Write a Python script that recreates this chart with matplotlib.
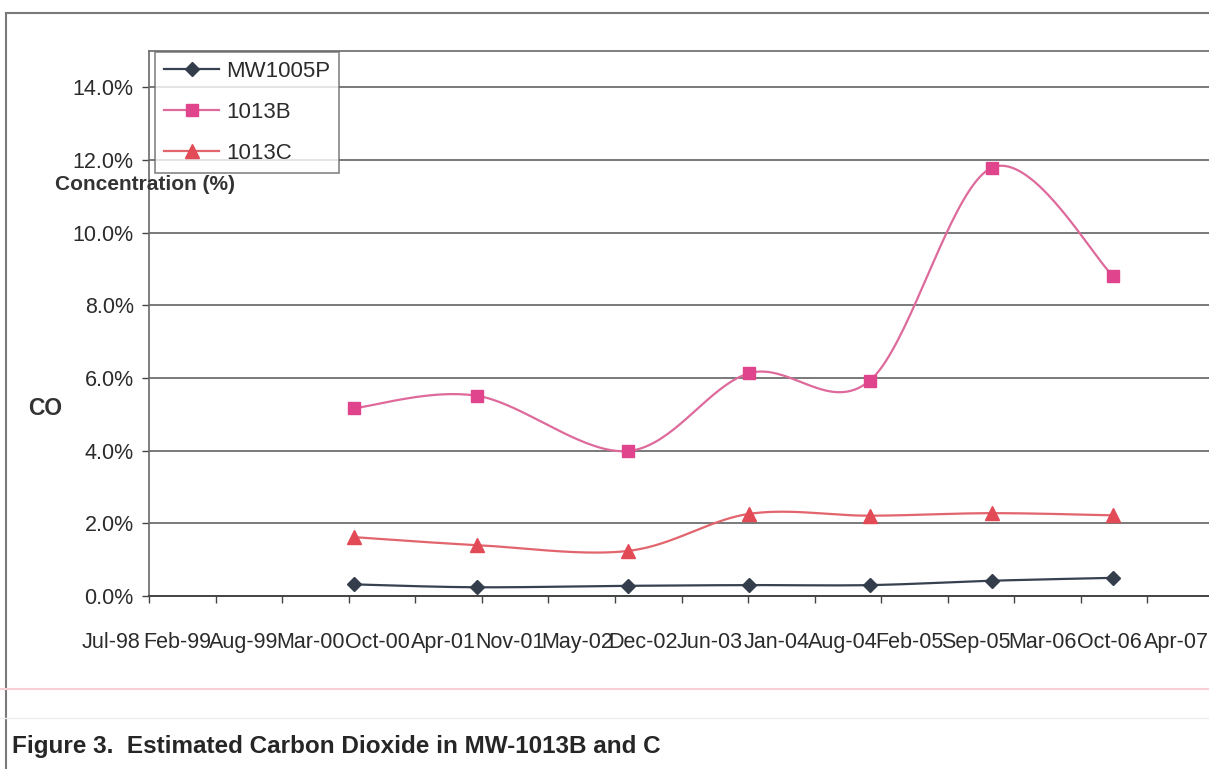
import numpy as np
import matplotlib
matplotlib.use("Agg")
import matplotlib.pyplot as plt
import matplotlib.dates as mdates
from matplotlib.lines import Line2D
from matplotlib.transforms import ScaledTranslation
import datetime as dt

plt.rcParams["font.family"] = ["Liberation Sans", "DejaVu Sans"]

# ---- data -------------------------------------------------------------
sample_dates = ["2000-04-01", "2001-04-05", "2002-07-02", "2003-07-01",
                "2004-06-28", "2005-06-30", "2006-06-29"]
mw1005p = [0.32, 0.24, 0.28, 0.30, 0.30, 0.42, 0.50]
mw1013b = [5.17, 5.51, 3.99, 6.13, 5.93, 11.79, 8.81]
mw1013c = [1.62, 1.40, 1.24, 2.26, 2.21, 2.28, 2.22]
series_names = ["MW1005P", "1013B", "1013C"]

axis_start = "1998-07-24"      # date axis minimum
axis_step_days = 200           # major unit
axis_n_steps = 16
y_max = 15.0
y_ticks = [0, 2, 4, 6, 8, 10, 12, 14]

title_text = "Figure 3.  Estimated Carbon Dioxide in MW-1013B and C"
ylabel_text = "Concentration (%)"
side_text = "CO"


def smooth_curve(x, y, n=40):
    """Piecewise cubic Bezier through the points (spreadsheet-style smoothing)."""
    x = np.asarray(x, float)
    y = np.asarray(y, float)
    px = np.concatenate([[x[0]], x, [x[-1]]])
    py = np.concatenate([[y[0]], y, [y[-1]]])
    t = np.linspace(0, 1, n)[:, None]
    xs, ys = [], []
    for i in range(1, len(px) - 2):
        p0 = np.array([px[i], py[i]])
        p3 = np.array([px[i + 1], py[i + 1]])
        c1 = p0 + (np.array([px[i + 1], py[i + 1]]) - np.array([px[i - 1], py[i - 1]])) / 6
        c2 = p3 - (np.array([px[i + 2], py[i + 2]]) - np.array([px[i], py[i]])) / 6
        b = ((1 - t) ** 3) * p0 + 3 * ((1 - t) ** 2) * t * c1 + 3 * (1 - t) * t ** 2 * c2 + t ** 3 * p3
        xs.append(b[:, 0])
        ys.append(b[:, 1])
    return np.concatenate(xs), np.concatenate(ys)


W, H = 1209, 769
fig = plt.figure(figsize=(W / 100, H / 100), dpi=100)
fig.patch.set_facecolor("white")

# plot area in pixel terms -> figure fraction
left_px, right_px, top_px, bottom_px = 149, 1214, 51, 596
ax = fig.add_axes([left_px / W, 1 - bottom_px / H,
                   (right_px - left_px) / W, (bottom_px - top_px) / H])

xd = mdates.date2num([dt.datetime.fromisoformat(d) for d in sample_dates])
start = dt.datetime.fromisoformat(axis_start)
tick_dates = [start + dt.timedelta(days=axis_step_days * k) for k in range(axis_n_steps + 1)]
tick_nums = mdates.date2num(tick_dates)

styles = [
    dict(line="#37414F", face="#333D4B", marker="D", ms=7.0),
    dict(line="#DE6A9C", face="#E0448C", marker="s", ms=8.0),
    dict(line="#E2646D", face="#E24A56", marker="^", ms=9.5),
]
values = [mw1005p, mw1013b, mw1013c]

for vals, st in zip(values, styles):
    sx, sy = smooth_curve(xd, vals)
    ax.plot(sx, sy, color=st["line"], lw=1.6, zorder=3)
    ax.plot(xd, vals, linestyle="none", marker=st["marker"], ms=st["ms"],
            markerfacecolor=st["face"], markeredgecolor=st["face"], zorder=4)

ax.set_xlim(tick_nums[0], tick_nums[-1])
ax.set_ylim(0, y_max)
ax.set_yticks(y_ticks)
ax.set_yticklabels([f"{v:.1f}%" for v in y_ticks])
ax.set_xticks(tick_nums)
ax.set_xticklabels([d.strftime("%b-%y") for d in tick_dates])

ax.grid(axis="y", color="#555555", lw=1.1)
ax.set_axisbelow(True)
for s in ["top", "left"]:
    ax.spines[s].set_color("#6a6a6a")
    ax.spines[s].set_linewidth(1.2)
ax.spines["right"].set_visible(False)
ax.spines["bottom"].set_color("#444444")
ax.spines["bottom"].set_linewidth(1.4)

ax.tick_params(axis="y", direction="out", length=5, width=1, color="#444444",
               labelsize=15.5, labelcolor="#2b2b2b", pad=6)
ax.tick_params(axis="x", direction="out", length=5, width=1, color="#444444",
               labelsize=15.5, labelcolor="#2b2b2b", pad=21)
shift = ScaledTranslation(-0.38, 0, fig.dpi_scale_trans)
for lab in ax.get_xticklabels():
    lab.set_transform(lab.get_transform() + shift)

# legend
handles = [Line2D([], [], color=st["line"], lw=1.6, marker=st["marker"], ms=st["ms"],
                  markerfacecolor=st["face"], markeredgecolor=st["face"])
           for st in styles]
leg = fig.legend(handles, series_names, loc="upper left",
                 bbox_to_anchor=(155 / W, 1 - 52 / H), bbox_transform=fig.transFigure,
                 fontsize=16, frameon=True, fancybox=False, borderpad=0.4,
                 labelspacing=0.9, handlelength=2.5, handletextpad=0.3,
                 borderaxespad=0)
leg.get_frame().set_edgecolor("#666666")
leg.get_frame().set_linewidth(1.2)
for t in leg.get_texts():
    t.set_color("#2b2b2b")

# axis labels
fig.text(55 / W, 1 - 184 / H, ylabel_text, fontsize=15, fontweight="bold",
         color="#333333", ha="left", va="center", zorder=5)
fig.text(28 / W, 1 - 409 / H, side_text, fontsize=16.5, fontweight="bold",
         color="#333333", ha="left", va="center")

# caption
fig.text(12 / W, 1 - 746 / H, title_text, fontsize=17.5, fontweight="bold",
         color="#262626", ha="left", va="center")

# page frame and rules
fig.add_artist(Line2D([6 / W, 6 / W], [0, 1 - 13 / H], transform=fig.transFigure,
                      color="#7a7a7a", lw=1.5))
fig.add_artist(Line2D([6 / W, 1], [1 - 13 / H, 1 - 13 / H], transform=fig.transFigure,
                      color="#7a7a7a", lw=1.5))
fig.add_artist(Line2D([0, 1], [1 - 689 / H, 1 - 689 / H], transform=fig.transFigure,
                      color="#f7cfd4", lw=1.5))
fig.add_artist(Line2D([0, 1], [1 - 718 / H, 1 - 718 / H], transform=fig.transFigure,
                      color="#efefef", lw=1.0))

fig.savefig("out.png", dpi=100, facecolor="white")
